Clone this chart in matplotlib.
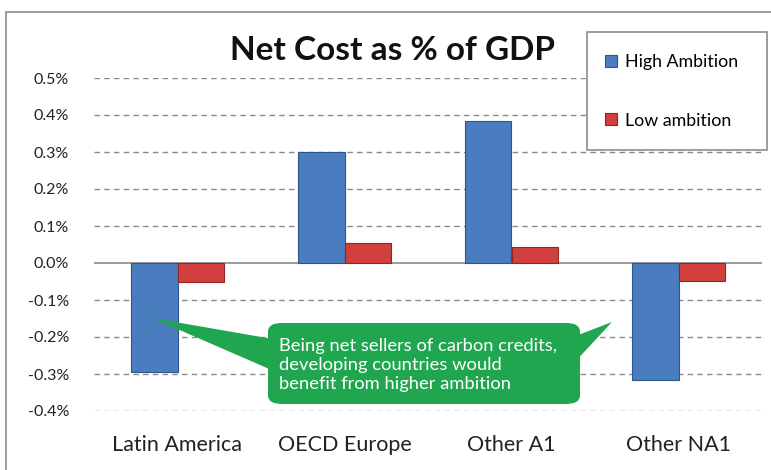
import numpy as np
import matplotlib
matplotlib.use('Agg')
import matplotlib.pyplot as plt
from matplotlib.patches import FancyBboxPatch, Polygon, Rectangle
from matplotlib.ticker import FuncFormatter

plt.rcParams['font.family'] = ['Lato', 'DejaVu Sans']

### ------------------- Data -------------------

categories = ['Latin America', 'OECD Europe', 'Other A1', 'Other NA1']
high_ambition = [-0.295, 0.30, 0.385, -0.315]   # % of GDP
low_ambition = [-0.05, 0.053, 0.043, -0.048]
yticks = [-0.4, -0.3, -0.2, -0.1, 0.0, 0.1, 0.2, 0.3, 0.4, 0.5]

W, H = 771, 470


def px(x, y):
    # pixel (from top-left) -> figure fraction
    return x / W, 1 - y / H


### ------------------- Plot -------------------

fig = plt.figure(figsize=(W / 100, H / 100), dpi=100)
fig.patch.set_facecolor('white')

# outer chart frame (runs off the right and bottom edges)
fig.patches.append(Rectangle(px(6, 480), 800 / W, 468 / H, transform=fig.transFigure,
                             fill=False, edgecolor='#8c8c8c', lw=1.2))

ax = fig.add_axes([94 / W, 1 - 411 / H, 668 / W, 333 / H])
x = np.arange(len(categories))
bw = 0.28
hb = ax.bar(x - bw / 2, high_ambition, bw, color='#4a7cc0', edgecolor='#2f5689',
            linewidth=0.8, zorder=3, label='High Ambition')
lb = ax.bar(x + bw / 2, low_ambition, bw, color='#d2403d', edgecolor='#8f2624',
            linewidth=0.8, zorder=3, label='Low ambition')

ax.set_xlim(-0.5, len(categories) - 0.5)
ax.set_ylim(-0.4, 0.5)
ax.set_yticks(yticks)
ax.yaxis.set_major_formatter(FuncFormatter(lambda v, p: '%.1f%%' % v))
ax.set_xticks(x)
ax.set_xticklabels(categories, fontsize=15.5, color='#222222')
ax.tick_params(axis='x', length=0, pad=17)
ax.tick_params(axis='y', length=0, pad=18, labelsize=11.5, colors='#222222')
for s in ax.spines.values():
    s.set_visible(False)
for t in yticks:
    if t == 0:
        ax.axhline(t, color='#8a8a8a', lw=1.2, zorder=2)
    else:
        ax.axhline(t, color='#8a8a8a', lw=1.0, ls=(0, (4, 3)), zorder=1)

fig.text(*px(392, 51), 'Net Cost as % of GDP', ha='center', va='center',
         fontsize=24, fontweight='bold', color='#111111')

# legend with its own frame
fig.patches.append(Rectangle(px(587, 150), 180 / W, 118 / H, transform=fig.transFigure,
                             facecolor='white', edgecolor='#8c8c8c', lw=1.2, zorder=4))
leg = fig.legend(handles=[hb, lb], loc='upper left', bbox_to_anchor=px(605, 54),
                 frameon=False, fontsize=12.8,
                 handlelength=0.65, handleheight=0.65, handletextpad=0.5,
                 labelspacing=2.4, borderpad=0, borderaxespad=0)
leg.set_zorder(5)

# callout
green = '#1fa64e'
fig.patches.append(Polygon([px(152, 318), px(290, 342), px(290, 378)], closed=True,
                           transform=fig.transFigure, facecolor=green, edgecolor='none', zorder=5))
fig.patches.append(Polygon([px(612, 322), px(560, 342), px(560, 378)], closed=True,
                           transform=fig.transFigure, facecolor=green, edgecolor='none', zorder=5))
x0, y0 = px(268, 404)
fig.patches.append(FancyBboxPatch((x0, y0), 312 / W, 81 / H,
                                  boxstyle='round,pad=0,rounding_size=0.018',
                                  transform=fig.transFigure, facecolor=green,
                                  edgecolor='none', zorder=5))
fig.text(*px(279, 365), 'Being net sellers of carbon credits,\ndeveloping countries would\nbenefit from higher ambition',
         ha='left', va='center', fontsize=13.2, color='white', linespacing=1.2, zorder=6)

fig.savefig('out.png', dpi=100)
